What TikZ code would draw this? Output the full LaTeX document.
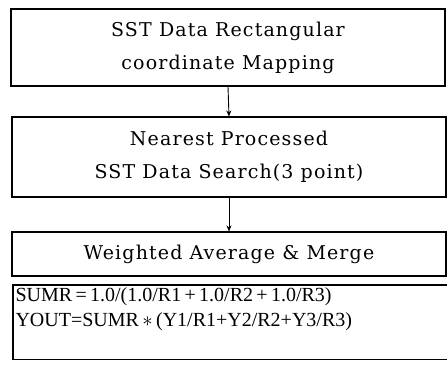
\documentclass[tikz,border=0pt]{standalone}
\usepackage{fontspec}
\setmainfont{DejaVu Serif}[LetterSpace=6]
\newfontfamily\eqfont{Liberation Serif}
\usetikzlibrary{arrows.meta}
\begin{document}
\begin{tikzpicture}[x=1pt,y=1pt,line width=1.1pt,
	stepbox/.style={draw,align=center,inner sep=0pt,font=\fontsize{19}{33}\selectfont},
	flow/.style={-{Stealth[length=6pt,width=5pt]},line width=0.9pt}]
	\useasboundingbox (0,0) rectangle (447,-370);
	\def\w{434}%Bề rộng hộp
	% các bước
	\node[stepbox,minimum width=\w,minimum height=77] (map) at (228,-47.5)
		{SST Data Rectangular\\coordinate Mapping};
	\node[stepbox,minimum width=\w,minimum height=80] (search) at (229,-157)
		{Nearest Processed\\SST Data Search(3 point)};
	\node[stepbox,minimum width=\w,minimum height=44] (merge) at (229,-254)
		{Weighted Average \& Merge};
	\draw[flow] (map.south) -- (search.north);
	\draw[flow] (search.south) -- (merge.north);
	% công thức
	\node[minimum width=440,minimum height=73,inner sep=0pt,anchor=north west] (eqbox) at (13,-285) {};
	\draw (eqbox.north east) -- (eqbox.north west) -- (eqbox.south west) -- (eqbox.south east);
	\node[anchor=west,align=left,inner sep=0pt,font=\eqfont\fontsize{20}{25}\selectfont] (eq) at (15,-309.5)
		{SUMR\,=\,1.0/(1.0/R1\,+\,1.0/R2\,+\,1.0/R3)\\
		 YOUT=SUMR\,$\ast$\,(Y1/R1+Y2/R2+Y3/R3)};
\end{tikzpicture}
\end{document}
